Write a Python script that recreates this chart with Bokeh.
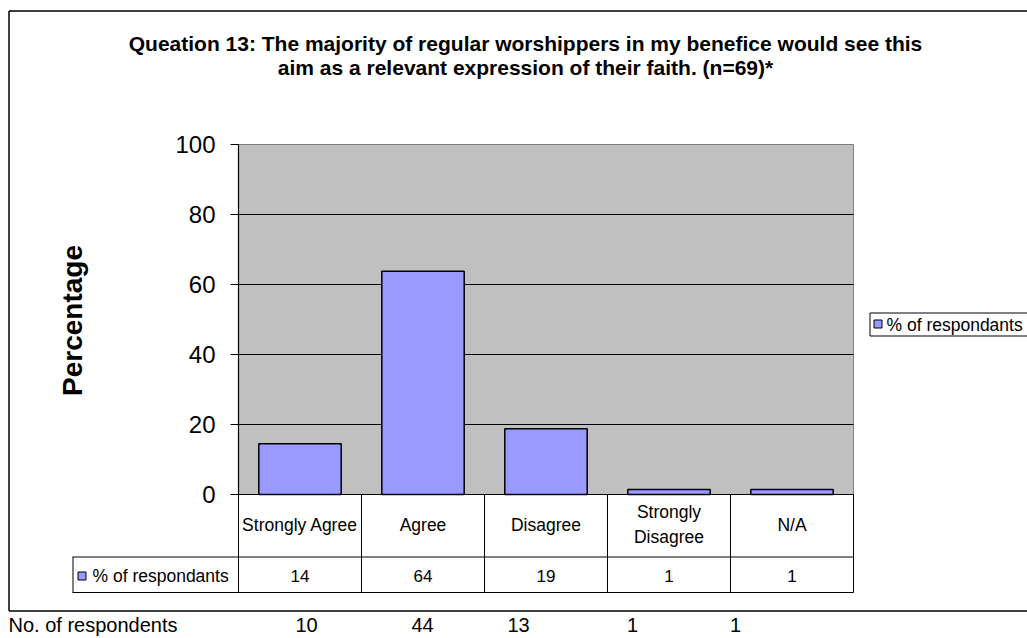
import math
from bokeh.plotting import figure
from bokeh.models import Range1d
from bokeh.core.properties import value
from bokeh.embed import file_html
from bokeh.resources import INLINE

# ---------------- data ----------------
categories = ["Strongly Agree", "Agree", "Disagree", "Strongly Disagree", "N/A"]
category_lines = [["Strongly Agree"], ["Agree"], ["Disagree"], ["Strongly", "Disagree"], ["N/A"]]
pct = [14.5, 63.8, 18.8, 1.4, 1.4]
counts = [10, 44, 13, 1, 1]
y_ticks = [0, 20, 40, 60, 80, 100]
series_name = "% of respondants"
title_lines = [
    "Queation 13: The majority of regular worshippers in my benefice would see this",
    "aim as a relevant expression of their faith. (n=69)*",
]
y_label = "Percentage"
count_label = "No. of respondents"

# ---------------- layout (picture pixels) ----------------
W, H = 1027, 638
OFF = 0
PL, PR, PT, PB = 238, 853, 144, 494
count_x = [306, 422, 518, 632, 735]

ncat = len(categories)
ymax = y_ticks[-1]
xs = (PR - PL) / ncat
ys = (PB - PT) / ymax

FONT = value("Liberation Sans")
BAR = "#9999FF"

p = figure(
    width=W, height=H,
    x_range=Range1d((OFF - PL) / xs, (OFF + W - PL) / xs),
    y_range=Range1d(-(OFF + H - PB) / ys, (PB - OFF) / ys),
    toolbar_location=None, output_backend="svg",
    x_axis_type=None, y_axis_type=None, title=None,
    min_border=0,
)
p.outline_line_color = None
p.background_fill_color = "white"
p.border_fill_color = "white"
p.extra_x_ranges = {"px": Range1d(OFF, OFF + W)}
p.extra_y_ranges = {"px": Range1d(OFF + H, OFF)}
PX = dict(x_range_name="px", y_range_name="px")

# outer chart border
p.segment(x0=[8.5, 8.5, 8.5], y0=[10.5, 10.5, 610.5], x1=[8.5, 1040, 1040], y1=[610.5, 10.5, 610.5],
          line_color="black", line_width=1.5, **PX)

# plot area
p.quad(left=[0], right=[ncat], bottom=[0], top=[ymax], fill_color="#C0C0C0",
       line_color="#808080", line_width=1)
inner = y_ticks[1:-1]
p.segment(x0=[0] * len(inner), x1=[ncat] * len(inner), y0=inner, y1=inner,
          line_color="black", line_width=1)

# bars
p.vbar(x=[i + 0.5 for i in range(ncat)], top=pct, width=0.67, fill_color=BAR,
       line_color="black", line_width=1.5)

# axis lines & ticks
p.segment(x0=[0, 0], y0=[0, 0], x1=[0, ncat], y1=[ymax, 0], line_color="black", line_width=1.2)
p.segment(x0=[PL - 8] * len(y_ticks), x1=[PL] * len(y_ticks), y0=y_ticks, y1=y_ticks,
          line_color="black", line_width=1, x_range_name="px")
p.text(x=[0] * len(y_ticks), y=y_ticks, text=[str(t) for t in y_ticks], x_offset=-23,
       text_align="right", text_baseline="middle", text_font=FONT, text_font_size="24px",
       text_color="black")

# y label
p.text(x=[72], y=[320], text=[y_label], angle=math.pi / 2, text_align="center",
       text_baseline="middle", text_font=FONT, text_font_size="28px", text_font_style="bold",
       text_color="black", **PX)

# title
p.text(x=[525, 525], y=[43, 67], text=title_lines, text_align="center", text_baseline="middle",
       text_font=FONT, text_font_size="21px", text_font_style="bold", text_color="black", **PX)

# data table
p.segment(x0=list(range(ncat + 1)), x1=list(range(ncat + 1)), y0=[494] * (ncat + 1),
          y1=[592] * (ncat + 1), line_color="black", line_width=1, y_range_name="px")
p.segment(x0=[72, 72, 72.5], x1=[PR, PR, 72.5], y0=[556.5, 592, 556.5], y1=[556.5, 592, 592],
          line_color="black", line_width=1, **PX)
lx, ly, lt = [], [], []
for i, lines in enumerate(category_lines):
    n = len(lines)
    for j, s in enumerate(lines):
        lx.append(i + 0.5)
        ly.append(524 + (j - (n - 1) / 2) * 25)
        lt.append(s)
p.text(x=lx, y=ly, text=lt, text_align="center", text_baseline="middle", text_font=FONT,
       text_font_size="17.5px", text_color="black", y_range_name="px")
p.text(x=[i + 0.5 for i in range(ncat)], y=[575] * ncat, text=[str(round(v)) for v in pct],
       text_align="center", text_baseline="middle", text_font=FONT, text_font_size="17px",
       text_color="black", y_range_name="px")
p.rect(x=[81.5], y=[575.5], width=8, height=8, fill_color=BAR, line_color="black",
       line_width=1, **PX)
p.text(x=[92], y=[575], text=[series_name], text_align="left", text_baseline="middle",
       text_font=FONT, text_font_size="17.5px", text_color="black", **PX)

# legend at right
p.quad(left=[869.5], right=[1040], top=[312.5], bottom=[335.5], fill_color="white",
       line_color="black", line_width=1, **PX)
p.rect(x=[877.5], y=[323.5], width=8, height=8, fill_color=BAR, line_color="black",
       line_width=1, **PX)
p.text(x=[886], y=[324], text=[series_name], text_align="left", text_baseline="middle",
       text_font=FONT, text_font_size="17.5px", text_color="black", **PX)

# respondents row below the chart (kept fully inside the picture)
p.text(x=[8], y=[624], text=[count_label], text_align="left", text_baseline="middle",
       text_font=FONT, text_font_size="20px", text_color="black", **PX)
p.text(x=count_x, y=[624] * ncat, text=[str(c) for c in counts], text_align="center",
       text_baseline="middle", text_font=FONT, text_font_size="20px", text_color="black", **PX)

open("out.html", "w").write(file_html(p, INLINE))
